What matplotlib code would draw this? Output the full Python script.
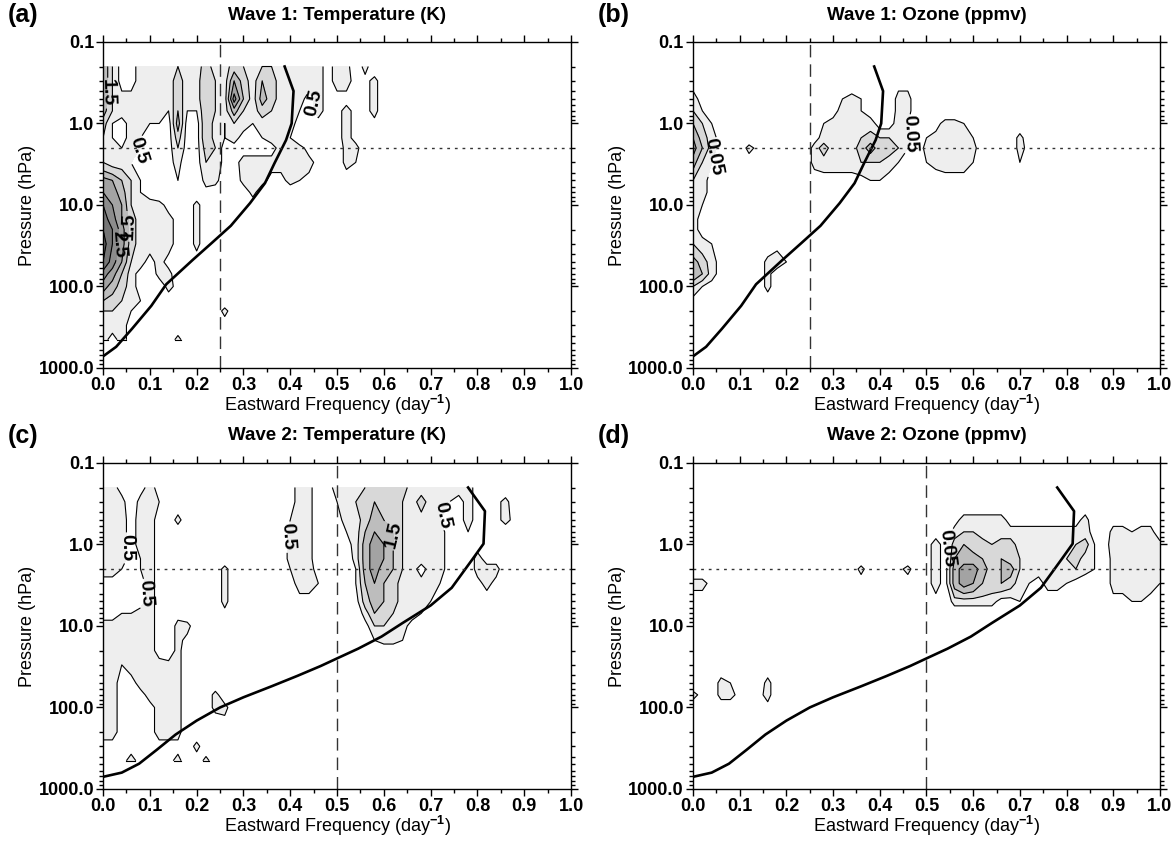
import numpy as np
import matplotlib
matplotlib.use("Agg")
import matplotlib.pyplot as plt
from matplotlib.ticker import FixedLocator, MultipleLocator, NullFormatter

plt.rcParams["font.family"] = ["Liberation Sans", "DejaVu Sans"]
plt.rcParams["font.weight"] = "bold"
plt.rcParams["mathtext.fontset"] = "custom"
plt.rcParams["mathtext.rm"] = "Liberation Sans:bold"
plt.rcParams["mathtext.it"] = "Liberation Sans:bold"
plt.rcParams["mathtext.bf"] = "Liberation Sans:bold"

# spectral grid: eastward frequency (day^-1) x pressure (hPa)
FREQ = np.linspace(0.0, 1.0, 51)
PRES = [0.2, 0.3, 0.5, 0.7, 1.0, 1.5, 2.0, 3.0, 5.0, 7.0, 10.0, 15.0, 20.0,
        30.0, 50.0, 70.0, 100.0, 150.0, 200.0, 300.0, 450.0]

# amplitudes, one hex digit per grid cell, one string per pressure level
# (groups of 5 cells = 0.1 day^-1); wave 1/2 temperature in 0.25 K units
T1_ROWS = [
    "84113 33343 35335 43443 33331 33030",
    "84113 33353 36438 53653 33331 33113",
    "84333 33353 3643b 63753 33131 11113",
    "74333 33262 26437 43543 32131 13113",
    "52133 22171 16324 32333 31111 13111",
    "42132 11151 16323 11233 20000 13100",
    "33232 01141 15411 11113 33100 03300",
    "43320 00130 14411 33333 33310 03200",
    "98642 10020 03300 33311 32100 00000",
    "a9742 10000 01000 03000",
    "ca843 33100 30000",
    "db853 33310 30000",
    "ec953 33310 30000",
    "fc953 33310 30000",
    "eb843 13100",
    "b9631 03300",
    "97531 00310",
    "65432 10000",
    "44321 00000 00030",
    "33310",
    "31310 00030",
]
# ozone in 0.025 ppmv units
O1_ROWS = [
    "",
    "10000 00000 00000 00000 00110",
    "31000 00000 00000 02320 00330",
    "42000 00000 00000 13321 10330",
    "64200 00000 00002 33333 11320 01332",
    "85310 00000 00013 33345 44430 23333 20000 3",
    "96310 03100 00035 33357 55420 33333 30000 31",
    "74200 00000 00033 33344 43210 23333 20000 2",
    "43100 00000 00001 11112 21000 00111",
    "33100",
    "32000",
    "31000",
    "31000",
    "43210 00001",
    "75310 00034 2",
    "86310 00030",
    "42100 00030",
    "10000",
]
T2_ROWS = [
    "33101 31000 00000 00000 13301 34446 65533 33333 10000",
    "33303 32000 00000 00000 13300 23456 65435 33213 10130",
    "43313 31030 00000 00000 23300 13357 66433 32113 10131",
    "43313 31000 00000 00000 33300 02368 86433 33112 00000",
    "33313 31000 00000 00000 33300 01379 86433 33111 10000",
    "33312 31000 00000 00000 33300 00379 86433 33100 31100",
    "33212 31000 00030 00000 23310 00279 76431 33100 33300",
    "11101 31000 00030 00000 13320 00268 65333 32000 13100",
    "10001 31000 00030 00000 01110 00157 65333 21000",
    "11223 31110 00010 00000 00000 00036 54332 1",
    "33333 31033 00000 00000 00000 00014 43310",
    "33333 31031 00000 00000 00000 00002 33200",
    "33333 31030",
    "33233 33330",
    "33113 33330",
    "33111 33330 00300",
    "33111 13330 00330",
    "33111 13330 00010",
    "33111 13330",
    "11111 11110 30000",
    "11131 11130 03000",
]
O2_ROWS = [
    "",
    "",
    "00000 00000 00000 00000 00000 00013 33331 11111 11300 11011",
    "00000 00000 00000 00000 00000 01034 43333 33333 33310 33233",
    "00000 00000 00000 00000 00000 13156 55455 33333 34520 43333 3",
    "00000 00000 00000 00000 00000 13167 76565 43333 45320 33333 3",
    "00000 00000 00000 00030 00130 13179 97567 43333 44320 33333 3",
    "33100 00000 00000 00000 00000 13179 86565 32133 21000 33333 2",
    "00000 00000 00000 00000 00000 01033 33311 21000 00000 11221",
    "", "", "", "", "",
    "00032 00030",
    "31033 10130",
    "00000 00010",
]

# critical-frequency curves (freq, pressure) for each zonal wave number
CURVE1_F = [0.0, 0.028, 0.062, 0.103, 0.135, 0.192, 0.233, 0.273, 0.314, 0.346,
            0.366, 0.391, 0.403, 0.407, 0.388]
CURVE1_P = [720, 550, 330, 173, 94, 47, 29, 18, 9.5, 5.4, 3.1, 1.6, 1.0, 0.4, 0.2]
CURVE2_F = [0.0, 0.04, 0.077, 0.115, 0.155, 0.2, 0.25, 0.30, 0.36, 0.415, 0.465,
            0.5, 0.545, 0.595, 0.64, 0.70, 0.745, 0.79, 0.813, 0.816, 0.78]
CURVE2_P = [710, 630, 490, 330, 215, 145, 100, 75, 55, 41, 31, 25, 19, 13.5, 9.2,
            5.6, 3.4, 1.5, 0.98, 0.39, 0.2]

T_LEVELS = [0.5, 1.0, 1.5, 2.0, 2.5, 3.0, 3.5]
O_LEVELS = [0.05, 0.10, 0.15, 0.20, 0.25]
SHADES = ["#eeeeee", "#d8d8d8", "#bdbdbd", "#a3a3a3", "#8c8c8c", "#767676", "#626262"]


def grid(rows, unit):
    z = np.zeros((len(PRES), len(FREQ)))
    for i, r in enumerate(rows):
        for j, ch in enumerate(r.replace(" ", "")):
            z[i, j] = int(ch, 16) * unit
    return z


PANELS = [
    ("(a)", "Wave 1: Temperature (K)", grid(T1_ROWS, 0.25), T_LEVELS, "%.1f",
     CURVE1_F, CURVE1_P, 0.25,
     {0.5: [(0.09, 2.3), (0.44, 0.55)], 1.5: [(0.012, 0.42), (0.055, 18)],
      2.5: [(0.025, 30)]}),
    ("(b)", "Wave 1: Ozone (ppmv)", grid(O1_ROWS, 0.025), O_LEVELS, "%.2f",
     CURVE1_F, CURVE1_P, 0.25,
     {0.05: [(0.05, 2.6), (0.475, 1.3)]}),
    ("(c)", "Wave 2: Temperature (K)", grid(T2_ROWS, 0.25), T_LEVELS, "%.1f",
     CURVE2_F, CURVE2_P, 0.5,
     {0.5: [(0.045, 1.1), (0.085, 4.0), (0.395, 0.8), (0.73, 0.45)],
      1.5: [(0.62, 0.75)]}),
    ("(d)", "Wave 2: Ozone (ppmv)", grid(O2_ROWS, 0.025), O_LEVELS, "%.2f",
     CURVE2_F, CURVE2_P, 0.5,
     {0.05: [(0.545, 1.1)]}),
]

POS = [[0.0877, 0.5635, 0.3983, 0.3867], [0.5898, 0.5635, 0.3974, 0.3867],
       [0.0877, 0.0641, 0.3983, 0.3867], [0.5898, 0.0641, 0.3974, 0.3867]]

fig = plt.figure(figsize=(11.75, 8.43), dpi=100)
for (letter, title, z, levels, fmt, cf, cp, vx, labels), pos in zip(PANELS, POS):
    ax = fig.add_axes(pos)
    ax.set_yscale("log")
    ax.contourf(FREQ, PRES, z, levels=levels + [99.0], colors=SHADES[:len(levels)])
    for lev in levels:
        cs = ax.contour(FREQ, PRES, z, levels=[lev], colors="k", linewidths=0.8)
        if lev in labels:
            ax.clabel(cs, manual=labels[lev], inline=True, fmt=fmt, fontsize=14)
    # close the lowest contour along the bottom edge of the data
    fx = np.linspace(0, 1, 1001)
    fz = np.interp(fx, FREQ, z[-1])
    ax.plot(fx, np.where(fz >= levels[0], PRES[-1], np.nan), color="k", lw=0.8)
    ax.plot(cf, cp, color="k", lw=1.9)
    ax.axvline(vx, color="#333333", lw=1.0, dashes=(9, 5))
    ax.axhline(2.0, color="#333333", lw=1.0, dashes=(2, 3.5))
    ax.set_xlim(0, 1)
    ax.set_ylim(1000, 0.1)
    ax.set_xticks(np.arange(11) / 10)
    ax.xaxis.set_minor_locator(MultipleLocator(0.05))
    ax.set_xticklabels([f"{v / 10:.1f}" for v in range(11)])
    ax.yaxis.set_major_locator(FixedLocator([0.1, 1, 10, 100, 1000]))
    ax.yaxis.set_minor_locator(FixedLocator([m * d for d in [0.1, 1, 10, 100]
                                             for m in range(2, 10)]))
    ax.yaxis.set_minor_formatter(NullFormatter())
    ax.set_yticklabels(["0.1", "1.0", "10.0", "100.0", "1000.0"])
    ax.tick_params(which="both", top=True, right=True, direction="out",
                   labelsize=13, width=1, pad=1.5)
    ax.tick_params(which="major", length=5)
    ax.tick_params(which="minor", length=3)
    for s in ax.spines.values():
        s.set_linewidth(1.0)
    ax.set_xlabel(r"Eastward Frequency (day$^{-1}$)", fontsize=13, labelpad=-1)
    ax.set_ylabel("Pressure (hPa)", fontsize=13, labelpad=2)
    x0, y0, w, h = pos
    fig.text(x0 - 0.081, y0 + h + 0.032, letter, fontsize=18, weight="bold",
             ha="left", va="center")
    fig.text(x0 + w / 2, y0 + h + 0.032, title, fontsize=13.5, weight="bold",
             ha="center", va="center")

fig.savefig("out.png", dpi=100)
